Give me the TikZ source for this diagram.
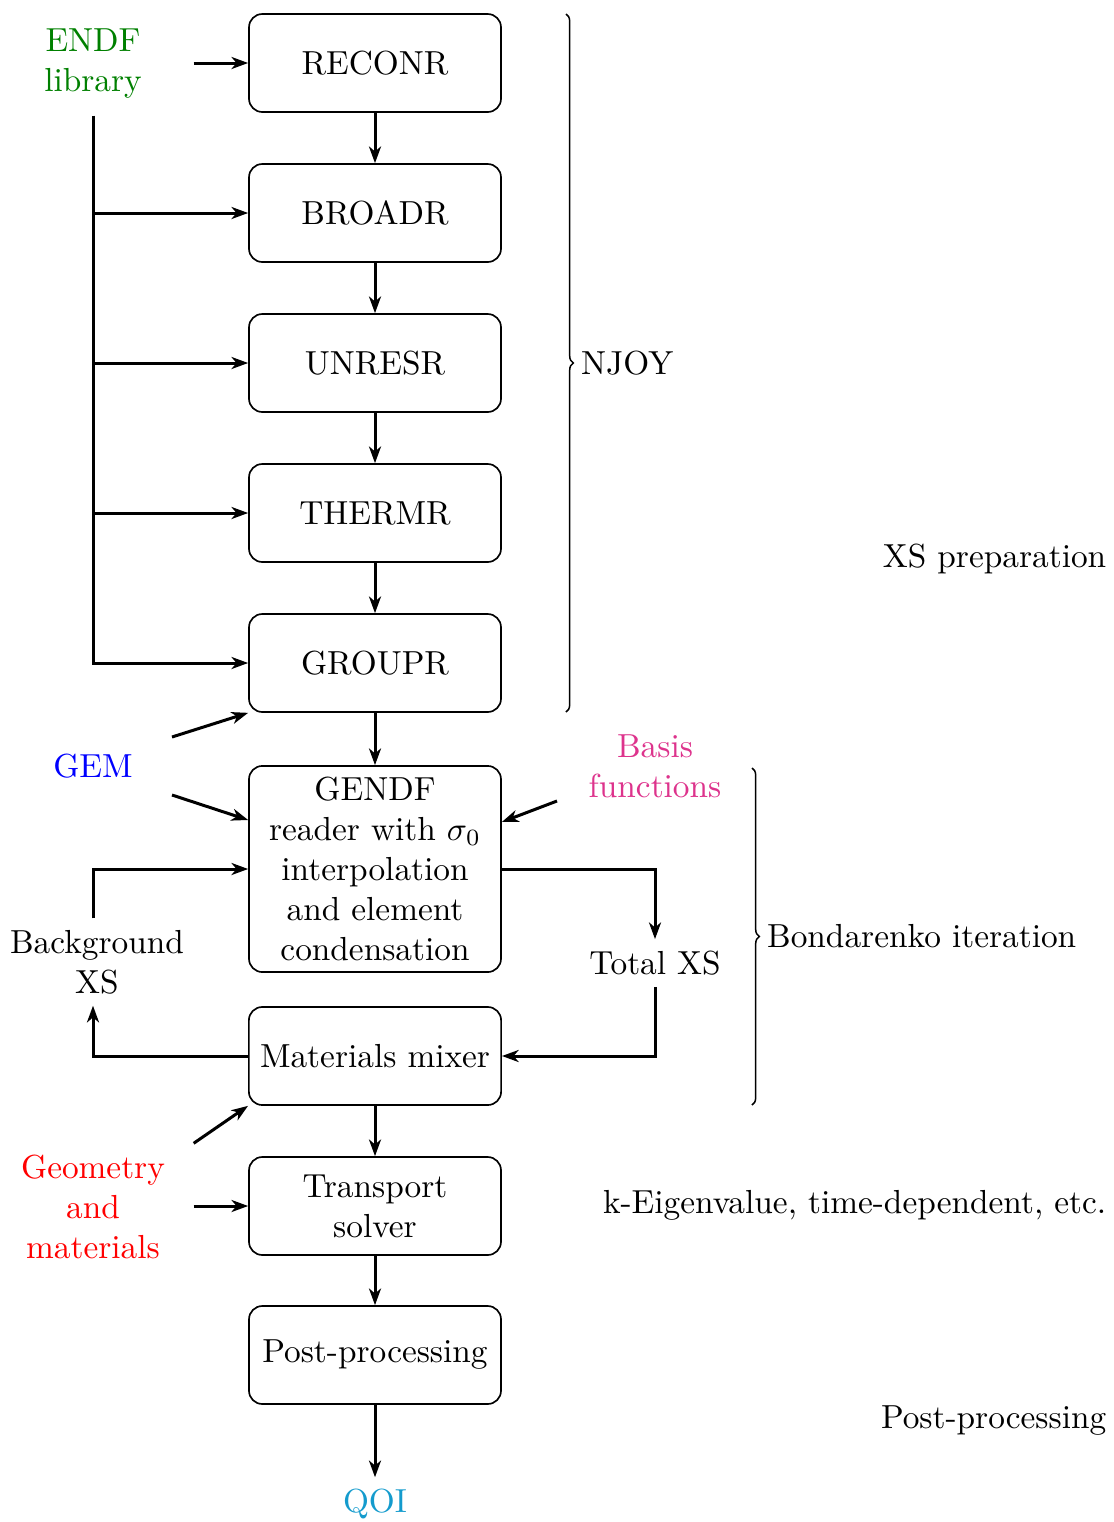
\documentclass[tikz,border=0pt]{standalone}
\usetikzlibrary{arrows.meta,decorations.pathreplacing}
\definecolor{endfgreen}{RGB}{0,128,0}
\definecolor{basispink}{RGB}{221,51,140}
\definecolor{qoiblue}{RGB}{20,155,205}
\begin{document}
\begin{tikzpicture}[x=0.3pt,y=-0.3pt,
  box/.style={draw, rounded corners=4pt, minimum width=75.6pt, minimum height=29.4pt,
              align=center, line width=0.5pt},
  arr/.style={-{Stealth[length=5pt,width=3.6pt,inset=1.5pt]}, line width=0.9pt},
  lbl/.style={align=center},
  side/.style={lbl, minimum width=60pt},
  brc/.style={decorate, decoration={brace, amplitude=2.2pt}, line width=0.45pt}]
\useasboundingbox (0,0) rectangle (1113,1522);

% processing chain
\node[box] (reconr) at (375,63) {RECONR};
\node[box] (broadr) at (375,213) {BROADR};
\node[box] (unresr) at (375,363) {UNRESR};
\node[box] (thermr) at (375,513) {THERMR};
\node[box] (groupr) at (375,663) {GROUPR};
\node[box, minimum height=60.6pt] (gendf) at (375,869)
  {GENDF\\reader with $\sigma_0$\\interpolation\\and element\\condensation};
\node[box] (mixer) at (375,1056) {Materials mixer};
\node[box] (transport) at (375,1206) {Transport\\solver};
\node[box] (post) at (375,1355) {Post-processing};
\node[lbl, text=qoiblue] (qoi) at (375,1504) {QOI};

% inputs and intermediate quantities
\node[side, text=endfgreen] (endf) at (93,64) {ENDF\\library};
\node[lbl, text=blue] (gem) at (93,766) {GEM};
\node[lbl, text=basispink] (basis) at (655,766) {Basis\\functions};
\node[lbl] (bgxs) at (97,962) {Background\\XS};
\node[lbl] (totxs) at (655,963) {Total XS};
\node[side, text=red] (geom) at (93,1207) {Geometry\\and\\materials};

\coordinate (gemA) at (172,737);
\coordinate (gemB) at (172,795);
\coordinate (basA) at (557,801);

% ENDF feed lines
\draw[arr] (endf.east |- reconr.west) -- (reconr.west);
\draw[arr] ([yshift=-1.5pt]endf.south) |- (groupr.west);
\foreach \n in {broadr,unresr,thermr}
  \draw[arr] (endf.south |- \n.west) -- (\n.west);

% main chain
\draw[arr] (reconr) -- (broadr);
\draw[arr] (broadr) -- (unresr);
\draw[arr] (unresr) -- (thermr);
\draw[arr] (thermr) -- (groupr);
\draw[arr] (groupr) -- (gendf);
\draw[arr] (mixer) -- (transport);
\draw[arr] (transport) -- (post);
\draw[arr] (post) -- (qoi);

% side inputs
\draw[arr] (gemA) -- (groupr.south west);
\draw[arr] (gemB) -- ([yshift=14.7pt]gendf.west);
\draw[arr] (basA) -- ([yshift=14.1pt]gendf.east);
\draw[arr] (geom.north east) -- (mixer.south west);
\draw[arr] (geom.east |- transport.west) -- (transport.west);

% Bondarenko loop
\draw[arr] (gendf.east) -| (totxs.north);
\draw[arr] (totxs.south) |- (mixer.east);
\draw[arr] (mixer.west) -| ([xshift=-1.2pt]bgxs.south);
\draw[arr] ([xshift=-1.2pt]bgxs.north) |- (gendf.west);

% grouping braces
\coordinate (nj1) at (566,14);
\coordinate (nj2) at (566,712);
\coordinate (bd1) at (752,768);
\coordinate (bd2) at (752,1105);
\draw[brc] (nj1) -- node[right, xshift=1pt] (njoy) {NJOY} (nj2);
\draw[brc] (bd1) -- node[right, xshift=1pt] (bond) {Bondarenko iteration} (bd2);

% stage labels
\node[anchor=east] (xsprep) at (1118,559) {XS preparation};
\node[anchor=east] (keig) at (1118,1205) {k-Eigenvalue, time-dependent, etc.};
\node[anchor=east] (pplabel) at (1118,1421) {Post-processing};
\end{tikzpicture}
\end{document}
